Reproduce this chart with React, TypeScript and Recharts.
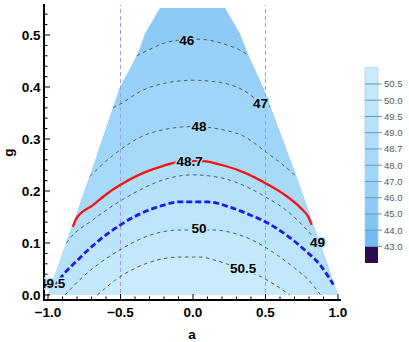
import { ComposedChart, Area, Line, Scatter, XAxis, YAxis, ReferenceLine } from "recharts";

type Pt = { a: number; g: number };
const toPts = (xs: [number, number][]): Pt[] => xs.map(([a, g]) => ({ a, g }));

// outline of the feasible (a, g) region
const region = toPts([
  [-1, 0], [-0.688, 0.247], [-0.503, 0.4], [-0.388, 0.458], [-0.331, 0.503], [-0.228, 0.552],
  [0.221, 0.552], [0.324, 0.503], [0.381, 0.462], [0.485, 0.398], [0.692, 0.244], [1, 0],
]);

// contour lines
const c46 = toPts([[-0.388, 0.46], [-0.297, 0.4725], [-0.193, 0.485], [-0.05, 0.491], [0.05, 0.4917], [0.232, 0.481], [0.324, 0.471], [0.38, 0.461]]);
const c47 = toPts([[-0.551, 0.36], [-0.503, 0.367], [-0.345, 0.394], [-0.2, 0.407], [0, 0.413], [0.2, 0.408], [0.34, 0.395], [0.46, 0.372], [0.533, 0.362]]);
const c48 = toPts([[-0.711, 0.228], [-0.641, 0.247], [-0.503, 0.279], [-0.345, 0.306], [-0.2, 0.318], [0, 0.324], [0.2, 0.318], [0.345, 0.306], [0.508, 0.274], [0.692, 0.233], [0.711, 0.228]]);
const c487 = toPts([[-0.828, 0.131], [-0.805, 0.147], [-0.69, 0.173], [-0.572, 0.199], [-0.5, 0.212], [-0.366, 0.232], [-0.2, 0.249], [-0.1, 0.256], [0.05, 0.258], [0.2, 0.25], [0.366, 0.234], [0.5, 0.215], [0.62, 0.195], [0.74, 0.168], [0.795, 0.15], [0.818, 0.135]]);
const c49 = toPts([[-0.873, 0.1], [-0.848, 0.109], [-0.688, 0.145], [-0.5, 0.181], [-0.366, 0.202], [-0.2, 0.222], [0, 0.231], [0.2, 0.225], [0.393, 0.205], [0.497, 0.189], [0.623, 0.167], [0.738, 0.139], [0.83, 0.111], [0.86, 0.1]]);
const c495 = toPts([[-0.955, 0.015], [-0.906, 0.035], [-0.8, 0.066], [-0.666, 0.101], [-0.5, 0.135], [-0.366, 0.156], [-0.2, 0.173], [-0.1, 0.179], [0.1, 0.179], [0.255, 0.169], [0.393, 0.154], [0.497, 0.141], [0.646, 0.115], [0.784, 0.083], [0.876, 0.058], [0.968, 0.02]]);
const c50 = toPts([[-0.883, 0], [-0.759, 0.035], [-0.503, 0.087], [-0.297, 0.115], [-0.09, 0.125], [0.138, 0.125], [0.372, 0.11], [0.6, 0.073], [0.717, 0.048], [0.8, 0.028], [0.88, 0]]);
const c505 = toPts([[-0.66, 0], [-0.503, 0.035], [-0.297, 0.063], [-0.09, 0.073], [0.05, 0.073], [0.138, 0.068], [0.31, 0.052], [0.462, 0.036], [0.669, 0]]);

const levels = [46, 47, 48, 48.7, 49, 49.5, 50, 50.5];
const contours = [c46, c47, c48, c487, c49, c495, c50, c505];

const contourLabels = [
  { a: -0.043, g: 0.49, level: 46, text: "46" },
  { a: 0.466, g: 0.369, level: 47, text: "47" },
  { a: 0.041, g: 0.325, level: 48, text: "48" },
  { a: -0.023, g: 0.257, level: 48.7, text: "48.7" },
  { a: 0.859, g: 0.101, level: 49, text: "49" },
  { a: -0.972, g: 0.0225, level: 49.5, text: "49.5" },
  { a: 0.041, g: 0.128, level: 50, text: "50" },
  { a: 0.345, g: 0.052, level: 50.5, text: "50.5" },
];

const guideLines = [-0.5, 0.5];

// legend, top to bottom
const legendTicks = ["50.5", "50.0", "49.5", "49.0", "48.7", "48.0", "47.0", "46.0", "45.0", "44.0", "43.0"];
const bandColors = ["#caebfc", "#c3e7fb", "#bce4fb", "#b5e1fa", "#aedef9", "#a7daf9", "#9fd5f8", "#97d1f7", "#8dcbf6", "#80c4f4", "#70bbf2", "#2c0b50"];

const xMajor = [-1, -0.5, 0, 0.5, 1];
const yMajor = [0, 0.1, 0.2, 0.3, 0.4, 0.5];
const xTicks = Array.from({ length: 21 }, (_, i) => (i - 10) / 10);
const yTicks = Array.from({ length: 28 }, (_, i) => (i * 2) / 100);

const X_DOMAIN: [number, number] = [-1.0276, 1.0138];
const Y_DOMAIN: [number, number] = [-0.0096, 0.5577];
const FONT = "'Liberation Sans', Arial, sans-serif";

const isMajor = (v: number, majors: number[]) => majors.some((m) => Math.abs(m - v) < 1e-6);
const fmt = (v: number) => v.toFixed(1).replace("-", "\u2212");

// region below a contour: boundary up to where the contour meets it, then the contour
function belowContour(c: Pt[]): Pt[] {
  const first = c[0];
  const last = c[c.length - 1];
  return [
    ...region.filter((p) => p.a < first.a && p.g <= first.g + 1e-9),
    ...c,
    ...region.filter((p) => p.a > last.a && p.g <= last.g + 1e-9),
  ];
}

const levelColor = (level: number) => bandColors[levels.length - 1 - levels.indexOf(level)];

const labelStyle = { fontFamily: FONT, fontSize: 13.5, fontWeight: 700 };

function BottomTick(props: any) {
  const { x, y, payload } = props;
  const major = isMajor(payload.value, xMajor);
  return (
    <g>
      <line x1={x} x2={x} y1={y} y2={y - (major ? 6 : 3.5)} stroke="#000" strokeWidth={1} />
      {major && (
        <text x={x} y={y + 17} textAnchor="middle" fill="#000" style={labelStyle}>
          {fmt(payload.value)}
        </text>
      )}
    </g>
  );
}

function TopTick(props: any) {
  const { x, y, payload } = props;
  const major = isMajor(payload.value, xMajor);
  return <line x1={x} x2={x} y1={y} y2={y + (major ? 6 : 3.5)} stroke="#000" strokeWidth={1} />;
}

function LeftTick(props: any) {
  const { x, y, payload } = props;
  const major = isMajor(payload.value, yMajor);
  return (
    <g>
      <line x1={x} x2={x + (major ? 6 : 3.5)} y1={y} y2={y} stroke="#000" strokeWidth={1} />
      {major && (
        <text x={x - 3.5} y={y} dy="0.36em" textAnchor="end" fill="#000" style={labelStyle}>
          {fmt(payload.value)}
        </text>
      )}
    </g>
  );
}

function RightTick(props: any) {
  const { x, y, payload } = props;
  const major = isMajor(payload.value, yMajor);
  return <line x1={x} x2={x - (major ? 6 : 3.5)} y1={y} y2={y} stroke="#000" strokeWidth={1} />;
}

function ContourLabel(props: any) {
  const { cx, cy, payload } = props;
  return (
    <g clipPath="url(#plotClip)">
      <text
        x={cx}
        y={cy}
        dy="0.36em"
        textAnchor="middle"
        fill="#000"
        stroke={levelColor(payload.level)}
        strokeWidth={3}
        paintOrder="stroke"
        style={labelStyle}
      >
        {payload.text}
      </text>
    </g>
  );
}

function ColorBar() {
  const x = 365;
  const w = 13;
  const top = 67.7;
  const h = 16.25;
  return (
    <svg width={409} height={342} style={{ position: "absolute", left: 0, top: 0, pointerEvents: "none" }}>
      {bandColors.map((c, i) => (
        <rect key={c} x={x} y={top + i * h} width={w} height={h + 0.3} fill={c} />
      ))}
      <rect x={x} y={top} width={w} height={h * 11} fill="none" stroke="#a9d4ec" strokeWidth={0.8} />
      {legendTicks.map((t, i) => (
        <g key={t}>
          <line x1={x} x2={x + w + 4} y1={top + (i + 1) * h} y2={top + (i + 1) * h} stroke="#7393aa" strokeWidth={1} />
          <text x={x + w + 6} y={top + (i + 1) * h} dy="0.35em" fill="#5a5a5a" style={{ fontFamily: FONT, fontSize: 9.5 }}>
            {t}
          </text>
        </g>
      ))}
    </svg>
  );
}

export default function App() {
  const axisLine = { stroke: "#000", strokeWidth: 2, strokeLinecap: "square" as const };
  return (
    <div style={{ position: "absolute", left: 0, top: 0, width: 409, height: 342, background: "#fff" }}>
      <ComposedChart width={409} height={342} margin={{ top: 5, right: 69, bottom: 0, left: 0 }}>
        <defs>
          <clipPath id="plotClip">
            <rect x={44} y={5} width={296} height={295} />
          </clipPath>
        </defs>
        <Area data={region} dataKey="g" type="linear" baseValue={0} fill={bandColors[8]} fillOpacity={1} stroke="none" dot={false} activeDot={false} isAnimationActive={false} />
        {contours.map((c, i) => (
          <Area
            key={`band-${levels[i]}`}
            data={belowContour(c)}
            dataKey="g"
            type="linear"
            baseValue={0}
            fill={bandColors[7 - i]}
            fillOpacity={1}
            stroke="none"
            dot={false}
            activeDot={false}
            isAnimationActive={false}
          />
        ))}
        {guideLines.map((v) => (
          <ReferenceLine key={v} x={v} stroke="#9a9af5" strokeDasharray="4 3" strokeWidth={1} />
        ))}
        {contours.map((c, i) =>
          levels[i] === 48.7 || levels[i] === 49.5 ? null : (
            <Line key={`c-${levels[i]}`} data={c} dataKey="g" type="monotone" stroke="#4a4a4a" strokeWidth={0.9} strokeDasharray="3.5 3.5" dot={false} activeDot={false} isAnimationActive={false} />
          )
        )}
        <Line data={c487} dataKey="g" type="monotone" stroke="#ff1010" strokeWidth={2.3} dot={false} activeDot={false} isAnimationActive={false} />
        <Line data={c495} dataKey="g" type="monotone" stroke="#1a1aee" strokeWidth={2.8} strokeDasharray="6 3" dot={false} activeDot={false} isAnimationActive={false} />
        <Scatter data={contourLabels} dataKey="g" shape={ContourLabel} isAnimationActive={false} />
        <XAxis
          dataKey="a"
          type="number"
          domain={X_DOMAIN}
          allowDataOverflow
          ticks={xTicks}
          interval={0}
          tickSize={0}
          tickMargin={0}
          tickLine={false}
          axisLine={axisLine}
          height={42}
          tick={BottomTick}
          label={{ value: "a", position: "insideBottom", offset: 3, style: { ...labelStyle, fill: "#000" } }}
        />
        <XAxis xAxisId="top" orientation="top" type="number" domain={X_DOMAIN} allowDataOverflow ticks={xTicks} interval={0} tickSize={0} tickMargin={0} tickLine={false} axisLine={axisLine} height={0} tick={TopTick} />
        <YAxis
          dataKey="g"
          type="number"
          domain={Y_DOMAIN}
          allowDataOverflow
          ticks={yTicks}
          interval={0}
          tickSize={0}
          tickMargin={0}
          tickLine={false}
          axisLine={axisLine}
          width={44}
          tick={LeftTick}
          label={{
            content: (p: any) => {
              const vb = p.viewBox;
              const cx = vb.x + 9;
              const cy = vb.y + vb.height / 2;
              return (
                <text x={cx} y={cy} dy="0.3em" textAnchor="middle" transform={`rotate(-90 ${cx} ${cy})`} fill="#000" style={labelStyle}>
                  g
                </text>
              );
            },
          }}
        />
        <YAxis yAxisId="right" orientation="right" type="number" domain={Y_DOMAIN} allowDataOverflow ticks={yTicks} interval={0} tickSize={0} tickMargin={0} tickLine={false} axisLine={axisLine} width={0} tick={RightTick} />
      </ComposedChart>
      <ColorBar />
    </div>
  );
}
